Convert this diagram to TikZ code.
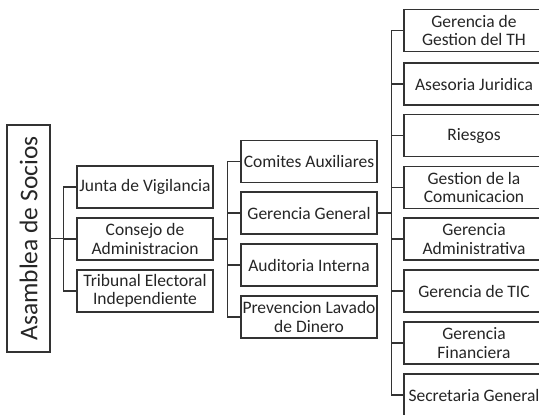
\documentclass[tikz,border=0pt]{standalone}
\usepackage{fontspec}
\setmainfont{Carlito}
\usepackage{tikz}

\tikzset{
  org/.style={draw=black!80, line width=1.1pt, fill=white, align=center,
    minimum width=136pt, minimum height=42pt, inner sep=1pt,
    font=\fontsize{17.5}{18.5}\selectfont, text=black!85},
  orgwide/.style={org, minimum width=140pt},
  link/.style={draw=black!80, line width=1.1pt}
}

\begin{document}
\begin{tikzpicture}[x=1pt,y=-1pt]
		\useasboundingbox (0,0) rectangle (539,415);
		\node[org, rotate=90, minimum width=227pt, minimum height=43pt,
		  font=\fontsize{25.5}{28}\selectfont] (asamblea) at (28.5,238.5) {Asamblea de Socios};
		\node[org] (junta) at (145,187) {Junta de Vigilancia};
		\node[org] (consejo) at (145,239) {Consejo de\\Administracion};
		\node[org] (tribunal) at (145,291) {Tribunal Electoral\\Independiente};
		\node[org] (comites) at (309,161.5) {Comites Auxiliares};
		\node[org] (gerencia) at (309,213) {Gerencia General};
		\node[org] (auditoria) at (309,265) {Auditoria Interna};
		\node[org] (lavado) at (309,317) {Prevencion Lavado\\de Dinero};
		\node[orgwide] (th) at (474,30.5) {Gerencia de\\Gestion del TH};
		\node[orgwide] (juridica) at (474,84) {Asesoria Juridica};
		\node[orgwide] (riesgos) at (474,135.5) {Riesgos};
		\node[orgwide] (comunicacion) at (474,187.5) {Gestion de la\\Comunicacion};
		\node[orgwide] (administrativa) at (474,239) {Gerencia\\Administrativa};
		\node[orgwide] (tic) at (474,291) {Gerencia de TIC};
		\node[orgwide] (financiera) at (474,343) {Gerencia\\Financiera};
		\node[orgwide] (secretaria) at (474,395) {Secretaria General};
		\draw[link] (asamblea.south) -- ++(13,0) coordinate (bus a);
		\foreach \n in {junta,consejo,tribunal}
		\draw[link] (\n.west) -| (bus a);
		\draw[link] (consejo.east) -- ++(14,0) coordinate (bus b);
		\foreach \n in {comites,gerencia,auditoria,lavado}
		\draw[link] (\n.west) -| (bus b);
		\draw[link] (gerencia.east) -- ++(14,0) coordinate (bus c);
		\foreach \n in {th,juridica,riesgos,comunicacion,administrativa,tic,financiera,secretaria}
		\draw[link] (\n.west) -| (bus c);
	\end{tikzpicture}
\end{document}
